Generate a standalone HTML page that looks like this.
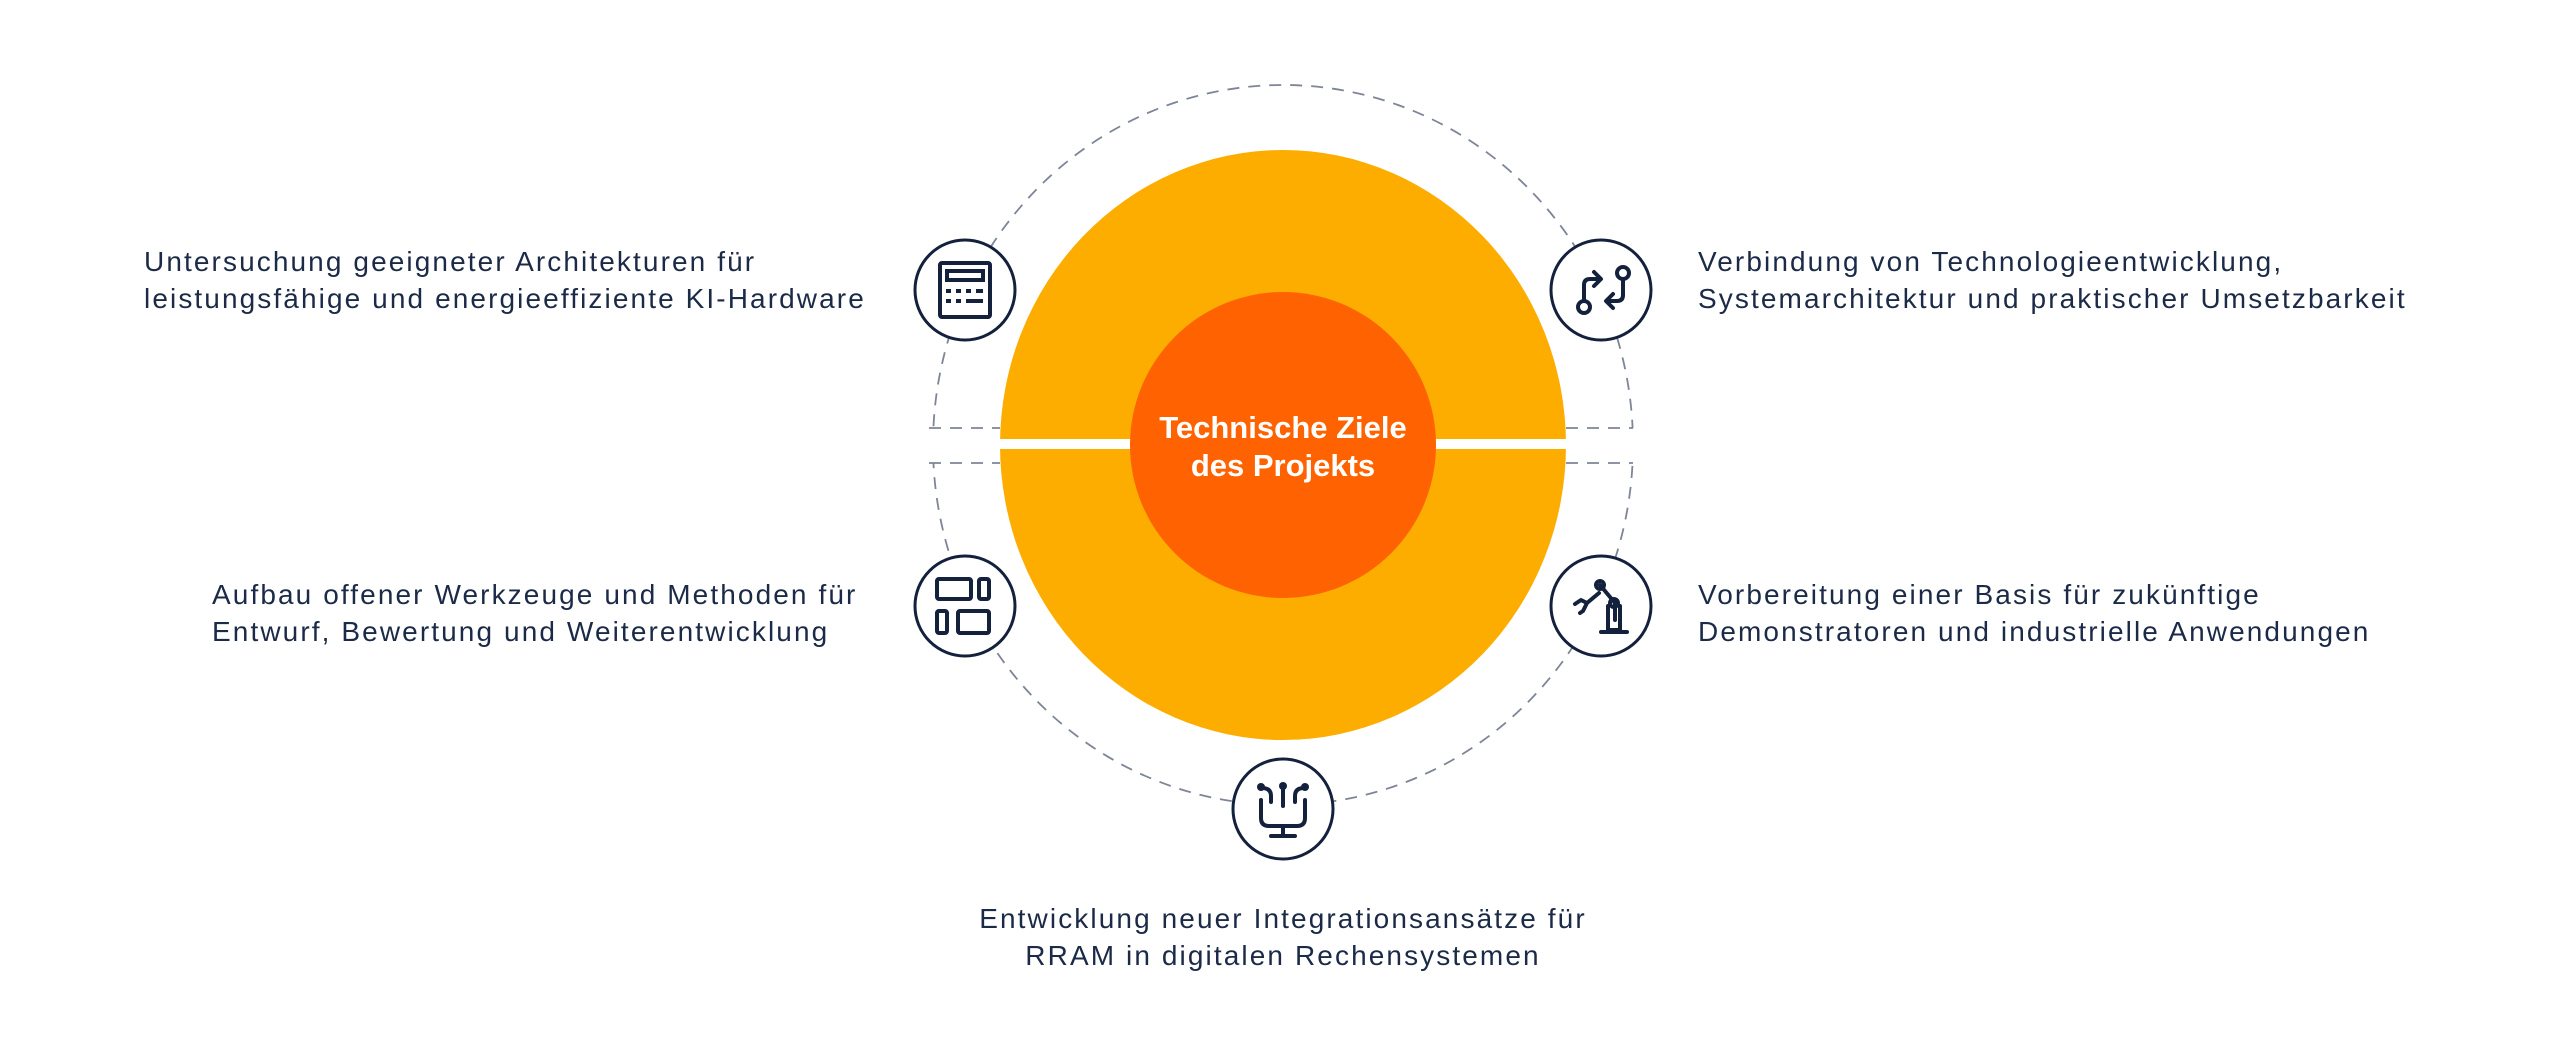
<!DOCTYPE html>
<html><head><meta charset="utf-8"><style>
html,body{margin:0;padding:0;background:#fff;width:2560px;height:1060px;overflow:hidden}
text{font-family:"Liberation Sans",sans-serif}
.t{font-size:28px;fill:#1b2a47;letter-spacing:2.1px}
</style></head><body>
<svg width="2560" height="1060" viewBox="0 0 2560 1060" xmlns="http://www.w3.org/2000/svg">
<defs>
<clipPath id="cl"><rect x="0" y="0" width="2560" height="428"/><rect x="0" y="463" width="2560" height="600"/></clipPath>
</defs>
<g fill="none" stroke="#7d8597" stroke-width="1.8" stroke-dasharray="12 9">
<ellipse cx="1283" cy="445" rx="350" ry="360" clip-path="url(#cl)"/>
<line x1="929" y1="428" x2="1000" y2="428"/>
<line x1="929" y1="463" x2="1000" y2="463"/>
<line x1="1566" y1="428" x2="1633" y2="428"/>
<line x1="1566" y1="463" x2="1633" y2="463"/>
</g>
<ellipse cx="1283" cy="445" rx="283" ry="295" fill="#fdad00"/>
<rect x="990" y="439" width="590" height="10" fill="#fff"/>
<circle cx="1283" cy="445" r="153" fill="#ff6200"/>
<text x="1283" y="438" text-anchor="middle" font-size="31" font-weight="bold" fill="#fff">Technische Ziele</text>
<text x="1283" y="476" text-anchor="middle" font-size="31" font-weight="bold" fill="#fff">des Projekts</text>

<g fill="#fff" stroke="#14213d" stroke-width="3">
<circle cx="965" cy="290" r="50"/>
<circle cx="1601" cy="290" r="50"/>
<circle cx="965" cy="606" r="50"/>
<circle cx="1601" cy="606" r="50"/>
<circle cx="1283" cy="809" r="50"/>
</g>
<g fill="none" stroke="#14213d" stroke-width="4">
<rect x="940" y="263" width="50" height="54" rx="2"/>
<rect x="947" y="271" width="36" height="9"/>
</g>
<g fill="#14213d">
<rect x="946" y="289" width="5" height="4"/><rect x="956" y="289" width="5" height="4"/><rect x="966" y="289" width="5" height="4"/><rect x="976" y="289" width="7" height="4"/>
<rect x="946" y="299" width="5" height="4"/><rect x="956" y="299" width="5" height="4"/><rect x="966" y="299" width="17" height="4"/>
</g>
<g fill="none" stroke="#14213d" stroke-width="4" stroke-linecap="round" stroke-linejoin="round">
<circle cx="1584" cy="307" r="6"/><circle cx="1623" cy="273" r="6"/>
<path d="M1584 301 V285 Q1584 279 1590 279 H1600 M1594 272 l7 7 -7 7"/>
<path d="M1623 279 V295 Q1623 301 1617 301 H1607 M1613 294 l-7 7 7 7"/>
</g>
<g fill="none" stroke="#14213d" stroke-width="4" stroke-linejoin="round">
<rect x="937" y="579" width="34" height="20" rx="2"/>
<rect x="979" y="579" width="10" height="20" rx="2"/>
<rect x="937" y="611" width="10" height="22" rx="2"/>
<rect x="958" y="611" width="31" height="22" rx="2"/>
</g>
<g fill="none" stroke="#14213d" stroke-width="4" stroke-linecap="round" stroke-linejoin="round">
<path d="M1575 604 l6 -4 6 3 M1587 603 l-4 8 -3 2 M1587 603 l12 -10"/>
<path d="M1600 585 l15 18 V620"/>
<circle cx="1600" cy="585" r="4"/><circle cx="1614" cy="603" r="4"/>
<path d="M1608 606 V630 H1620 V606"/>
<path d="M1601 632 H1627"/>
</g>
<g fill="none" stroke="#14213d" stroke-width="4" stroke-linecap="round" stroke-linejoin="round">
<path d="M1261 800 V818 Q1261 826 1269 826 H1297 Q1305 826 1305 818 V800"/>
<path d="M1283 826 V835 M1271 836 H1295"/>
<path d="M1262 788 Q1271 788 1271 796 V802"/>
<path d="M1283 788 V806"/>
<path d="M1304 788 Q1295 788 1295 796 V802"/>
</g>
<g fill="#14213d"><circle cx="1261" cy="787" r="4"/><circle cx="1283" cy="786" r="4"/><circle cx="1305" cy="787" r="4"/></g>

<text class="t" x="144" y="271">Untersuchung geeigneter Architekturen für</text>
<text class="t" x="144" y="308">leistungsfähige und energieeffiziente KI-Hardware</text>
<text class="t" x="1698" y="271">Verbindung von Technologieentwicklung,</text>
<text class="t" x="1698" y="308">Systemarchitektur und praktischer Umsetzbarkeit</text>
<text class="t" x="212" y="604">Aufbau offener Werkzeuge und Methoden für</text>
<text class="t" x="212" y="641">Entwurf, Bewertung und Weiterentwicklung</text>
<text class="t" x="1698" y="604">Vorbereitung einer Basis für zukünftige</text>
<text class="t" x="1698" y="641">Demonstratoren und industrielle Anwendungen</text>
<text class="t" x="1283" y="928" text-anchor="middle">Entwicklung neuer Integrationsansätze für</text>
<text class="t" x="1283" y="965" text-anchor="middle">RRAM in digitalen Rechensystemen</text>
</svg>
</body></html>
